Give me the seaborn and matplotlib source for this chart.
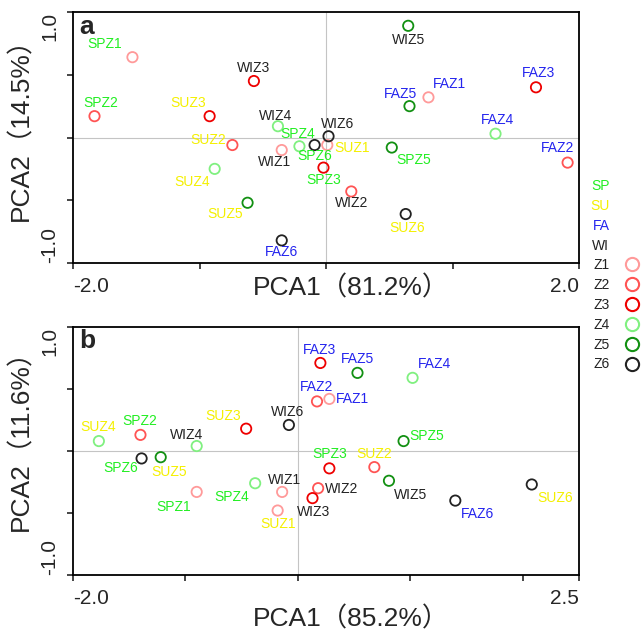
import numpy as np
import pandas as pd
import matplotlib
matplotlib.use("Agg")
import matplotlib.pyplot as plt
from matplotlib.lines import Line2D
import seaborn as sns

# sample names (season + zone), same order for both panels
samples = ['SPZ1', 'SPZ2', 'SPZ3', 'SPZ4', 'SPZ5', 'SPZ6',
           'SUZ1', 'SUZ2', 'SUZ3', 'SUZ4', 'SUZ5', 'SUZ6',
           'FAZ1', 'FAZ2', 'FAZ3', 'FAZ4', 'FAZ5', 'FAZ6',
           'WIZ1', 'WIZ2', 'WIZ3', 'WIZ4', 'WIZ5', 'WIZ6']

# panel a scores
pca1_a = [-1.53, -1.83, -0.02, -0.21, 0.52, -0.09,
          0.01, -0.74, -0.92, -0.88, -0.62, 0.63,
          0.81, 1.91, 1.66, 1.34, 0.66, -0.35,
          -0.35, 0.20, -0.57, -0.38, 0.65, 0.02]
pca2_a = [0.64, 0.17, -0.24, -0.07, -0.08, -0.06,
          -0.06, -0.06, 0.17, -0.25, -0.52, -0.61,
          0.32, -0.20, 0.40, 0.03, 0.25, -0.82,
          -0.10, -0.43, 0.45, 0.09, 0.89, 0.01]

# panel b scores
pca1_b = [-0.90, -1.40, 0.28, -0.38, 0.94, -1.39,
          -0.18, 0.68, -0.46, -1.77, -1.22, 2.08,
          0.28, 0.17, 0.20, 1.02, 0.53, 1.40,
          -0.14, 0.18, 0.13, -0.90, 0.81, -0.08]
pca2_b = [-0.33, 0.13, -0.14, -0.26, 0.08, -0.06,
          -0.48, -0.13, 0.18, 0.08, -0.05, -0.27,
          0.42, 0.40, 0.71, 0.59, 0.63, -0.40,
          -0.33, -0.30, -0.38, 0.04, -0.24, 0.21]

# label offsets (pixels, screen y down)
off_a = [(-28, -13), (6, -13), (0, 12), (-2, -12), (22, 12), (0, 11),
         (25, 3), (-24, -5), (-21, -13), (-23, 13), (-22, 11), (1, 14),
         (21, -13), (-10, -15), (3, -14), (2, -14), (-9, -12), (0, 12),
         (-7, 12), (0, 12), (0, -13), (-2, -10), (0, 14), (9, -12)]
off_b = [(-23, 15), (-1, -14), (0, -14), (-23, 14), (23, -5), (-21, 10),
         (0, 13), (0, -13), (-23, -13), (-1, -14), (8, 15), (23, 14),
         (23, 0), (0, -14), (-1, -13), (22, -14), (0, -14), (22, 13),
         (2, -12), (23, 1), (1, 14), (-10, -11), (22, 14), (-1, -13)]

seasons = ['SP', 'SU', 'FA', 'WI']
zones = ['Z1', 'Z2', 'Z3', 'Z4', 'Z5', 'Z6']
season_colors = {'SP': '#22ee22', 'SU': '#f4f000', 'FA': '#2424ee', 'WI': '#222222'}
zone_colors = {'Z1': '#ff9a9a', 'Z2': '#ff5454', 'Z3': '#ee0000',
               'Z4': '#80f080', 'Z5': '#129012', 'Z6': '#222222'}

sns.set_style('white')
plt.rcParams['font.family'] = ['Liberation Sans', 'Noto Sans CJK SC']

fig = plt.figure(figsize=(6.44, 6.34), dpi=100)
ax_a = fig.add_axes([73 / 644, 1 - 263 / 634, 506 / 644, 251 / 634])
ax_b = fig.add_axes([73 / 644, 1 - 575 / 634, 506 / 644, 248 / 634])


def draw_panel(ax, x, y, offsets, xmax, xticks, xlab, ylab, letter):
    df = pd.DataFrame({'pca1': x, 'pca2': y, 'name': samples})
    df['season'] = df['name'].str[:2]
    df['zone'] = df['name'].str[2:]
    ax.axhline(0, color='#c4c4c4', lw=0.8, zorder=0)
    ax.axvline(0, color='#c4c4c4', lw=0.8, zorder=0)
    sns.scatterplot(data=df, x='pca1', y='pca2', hue='zone', palette=zone_colors,
                    hue_order=zones, s=55, marker='o', legend=False, ax=ax, zorder=3)
    # hollow circles
    coll = ax.collections[-1]
    fc = coll.get_facecolors()
    coll.set_edgecolors(fc)
    coll.set_facecolors('none')
    coll.set_linewidths(1.3)
    for (_, r), (dx, dy) in zip(df.iterrows(), offsets):
        ax.annotate(r['name'], (r['pca1'], r['pca2']), xytext=(dx, -dy),
                    textcoords='offset pixels', ha='center', va='center',
                    fontsize=10, color=season_colors[r['season']])

    ax.set_xlim(-2, xmax)
    ax.set_ylim(-1, 1)
    ax.set_xticks(xticks)
    xl = ['' for _ in xticks]
    xl[0] = f'{xticks[0]:.1f}'
    xl[-1] = f'{xticks[-1]:.1f}'
    ax.set_xticklabels(xl)
    ax.set_yticks([-1, -0.5, 0, 0.5, 1])
    ax.set_yticklabels(['-1.0', '', '', '', '1.0'])
    ax.tick_params(axis='both', direction='out', length=4, width=1.2,
                   labelsize=15, pad=6, bottom=True, left=True)
    ax.tick_params(axis='y', labelrotation=90)
    xt = ax.get_xticklabels()
    xt[0].set_ha('left')
    xt[-1].set_ha('right')
    yt = ax.get_yticklabels()
    yt[0].set_va('bottom')
    yt[-1].set_va('top')
    for sp in ax.spines.values():
        sp.set_color('black')
        sp.set_linewidth(1.3)

    ax.set_xlabel(xlab, fontsize=19)
    ax.set_ylabel(ylab, fontsize=19)
    ax.text(0.012, 0.99, letter, transform=ax.transAxes, ha='left', va='top',
            fontsize=19, fontweight='bold')


draw_panel(ax_a, pca1_a, pca2_a, off_a, 2.0, [-2, -1, 0, 1, 2],
           'PCA1（81.2%）', 'PCA2（14.5%）', 'a')
ax_a.xaxis.set_label_coords(0.55, -0.05)
ax_a.yaxis.set_label_coords(-0.078, 0.56)

draw_panel(ax_b, pca1_b, pca2_b, off_b, 2.5, [-2, -1, 0, 1, 2, 2.5],
           'PCA1（85.2%）', 'PCA2（11.6%）', 'b')
ax_b.xaxis.set_label_coords(0.55, -0.125)
ax_b.yaxis.set_label_coords(-0.078, 0.57)

# legend: season text colours, zone markers
handles = [Line2D([], [], linestyle='none') for _ in seasons]
handles += [Line2D([], [], linestyle='none', marker='o', markersize=9.5,
                   markerfacecolor='none', markeredgecolor=zone_colors[z],
                   markeredgewidth=1.5) for z in zones]
leg = fig.legend(handles, seasons + zones, loc='upper left',
                 bbox_to_anchor=(590 / 644, 1 - 179 / 634), frameon=False,
                 fontsize=10, markerfirst=False, handlelength=1.0,
                 handletextpad=1.1, labelspacing=0.42, borderpad=0,
                 borderaxespad=0)
for t, lab in zip(leg.get_texts(), seasons + zones):
    t.set_color(season_colors.get(lab, '#222222'))

fig.savefig('out.png', dpi=100)
